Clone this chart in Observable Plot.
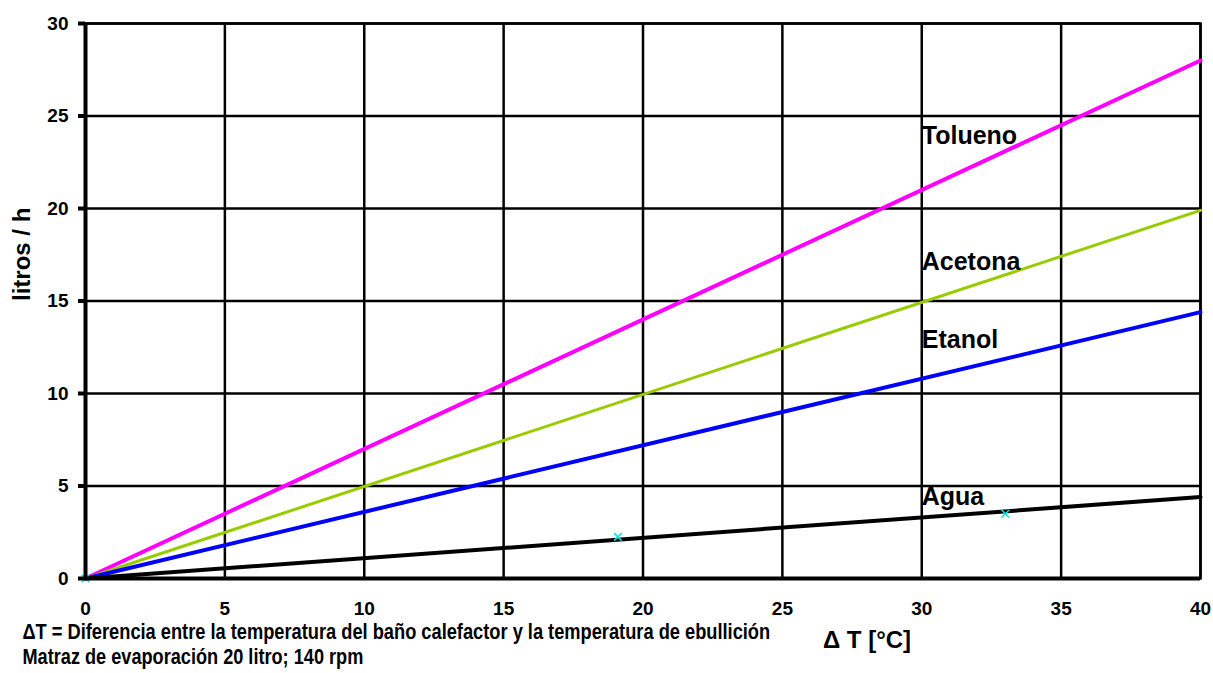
<!DOCTYPE html>
<html>
<head>
<meta charset="utf-8">
<script src="https://cdn.jsdelivr.net/npm/d3@7"></script>
<script src="https://cdn.jsdelivr.net/npm/@observablehq/plot@0.6"></script>
<style>
  html, body { margin: 0; padding: 0; background: #fff; }
  #chart svg { display: block; }
</style>
</head>
<body>
<div id="chart"></div>
<script>
// Evaporation rate (litres per hour) versus temperature difference ΔT
const deltaT = [0, 40];
const tolueno = [0, 28];
const acetona = [0, 19.9];
const etanol = [0, 14.4];
const agua = [0, 4.4];

// Individual measured points for water
const aguaPuntosX = [0, 19.1, 33];
const aguaPuntosY = [0, 2.25, 3.5];

// Series names, colours and where their labels sit
const series = ["Tolueno", "Acetona", "Etanol", "Agua"];
const seriesValues = [tolueno, acetona, etanol, agua];
const seriesColors = ["#ff00ff", "#99cc00", "#0000ff", "#000000"];
const seriesWidths = [4, 3, 4, 4];
const labelX = [30, 30, 30, 30];
const labelY = [23.9, 17.1, 12.9, 4.4];

const xTicks = [0, 5, 10, 15, 20, 25, 30, 35, 40];
const yTicks = [0, 5, 10, 15, 20, 25, 30];

const footnote1 = "ΔT = Diferencia entre la temperatura del baño calefactor y la temperatura de ebullición";
const footnote2 = "Matraz de evaporación 20 litro; 140 rpm";

const lines = series.map((name, i) =>
  Plot.line(deltaT.map((t, j) => ({t, v: seriesValues[i][j]})), {
    x: "t", y: "v", stroke: seriesColors[i], strokeWidth: seriesWidths[i]
  })
);

const labels = series.map((name, i) => ({name, x: labelX[i], y: labelY[i]}));
const puntos = aguaPuntosX.map((x, i) => ({x, y: aguaPuntosY[i]}));

const chart = Plot.plot({
  width: 1213,
  height: 673,
  marginLeft: 85,
  marginRight: 13,
  marginTop: 23,
  marginBottom: 95,
  style: {fontFamily: "'Liberation Sans', Arial, sans-serif", background: "#fff", color: "#000"},
  x: {domain: [0, 40]},
  y: {domain: [0, 30]},
  marks: [
    Plot.gridX(xTicks, {stroke: "#000", strokeOpacity: 1, strokeWidth: 2.5}),
    Plot.gridY(yTicks, {stroke: "#000", strokeOpacity: 1, strokeWidth: 2.5}),
    Plot.frame({stroke: "#000", strokeWidth: 2.5}),
    ...lines,
    Plot.dot(puntos, {x: "x", y: "y", symbol: "times", r: 3.5, stroke: "#00e5e5", strokeWidth: 1.5}),
    Plot.ruleX([0], {stroke: "#000", strokeWidth: 4}),
    Plot.ruleY([0], {stroke: "#000", strokeWidth: 4}),
    Plot.axisY(yTicks, {tickSize: 7, strokeWidth: 4, tickPadding: 10, fontSize: 19, fontWeight: "bold", label: null}),
    Plot.axisX(xTicks, {tickSize: 0, tickPadding: 23, fontSize: 19, fontWeight: "bold", label: null}),
    Plot.text(labels, {x: "x", y: "y", text: "name", textAnchor: "start", fontSize: 25, fontWeight: "bold", fill: "#000"}),
    Plot.text(["litros / h"], {frameAnchor: "left", rotate: -90, dx: -63, fontSize: 24, fontWeight: "bold", fill: "#000"}),
    Plot.text(["Δ T [°C]"], {frameAnchor: "bottom", dx: 224, dy: 69, fontSize: 24, fontWeight: "bold", fill: "#000"}),
    Plot.text([footnote1], {frameAnchor: "bottom-left", textAnchor: "start", dx: -63, dy: 60, fontSize: 22, fontWeight: "bold", fill: "#000"}),
    Plot.text([footnote2], {frameAnchor: "bottom-left", textAnchor: "start", dx: -63, dy: 85, fontSize: 22, fontWeight: "bold", fill: "#000"})
  ]
});

document.getElementById("chart").appendChild(chart);

// The notes are set in a condensed face: scale them horizontally to their line widths
const noteWidths = new Map([[footnote1, 748], [footnote2, 341]]);
d3.select(chart).selectAll("text")
  .filter(function() { return noteWidths.has(this.textContent); })
  .each(function() {
    const k = noteWidths.get(this.textContent) / this.getComputedTextLength();
    const t = this.getAttribute("transform") || "";
    this.setAttribute("transform", `${t} scale(${k},1)`);
  });
</script>
</body>
</html>
